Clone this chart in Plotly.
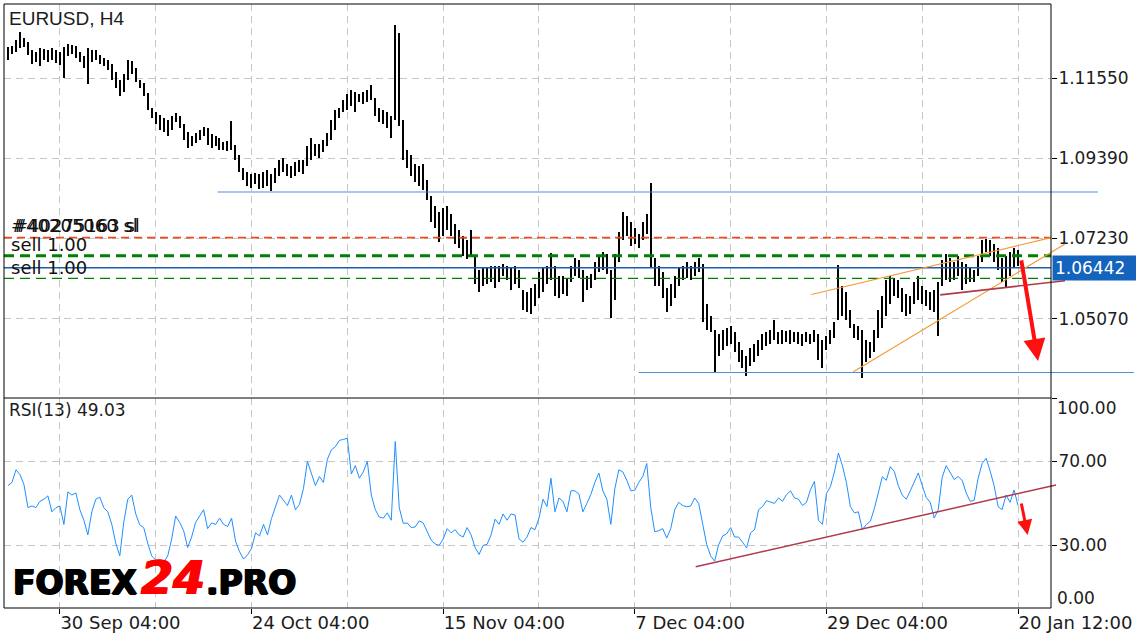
import plotly.graph_objects as go

# ---------------- data (one entry per drawn bar column) ----------------
time_ticks = [13, 61, 109, 157, 205, 253]
time_labels = ["30 Sep 04:00", "24 Oct 04:00", "15 Nov 04:00",
               "7 Dec 04:00", "29 Dec 04:00", "20 Jan 12:00"]

high = [
    1.1239, 1.1241, 1.1257, 1.1279, 1.1263, 1.1252, 1.1231, 1.1225, 1.1236, 1.1233,
    1.1231, 1.1236, 1.1231, 1.1225, 1.1239, 1.1247, 1.1244, 1.1241, 1.1225, 1.1214,
    1.1236, 1.1231, 1.1231, 1.1217, 1.1209, 1.1204, 1.1193, 1.1171, 1.1150, 1.1166,
    1.1204, 1.1201, 1.1182, 1.1150, 1.1142, 1.1115, 1.1074, 1.1064, 1.1055, 1.1047,
    1.1042, 1.1053, 1.1061, 1.1053, 1.1031, 1.1010, 1.0999, 1.1007, 1.1015, 1.1023,
    1.1020, 1.1004, 1.0999, 1.0994, 1.0983, 1.0985, 1.1039, 1.0975, 1.0948, 1.0913,
    1.0902, 1.0897, 1.0899, 1.0897, 1.0902, 1.0907, 1.0897, 1.0913, 1.0934, 1.0940,
    1.0923, 1.0918, 1.0929, 1.0934, 1.0934, 1.0972, 1.0994, 1.0977, 1.0977, 1.0988,
    1.1007, 1.1042, 1.1069, 1.1074, 1.1096, 1.1112, 1.1123, 1.1117, 1.1112, 1.1117,
    1.1123, 1.1136, 1.1101, 1.1074, 1.1069, 1.1064, 1.1053, 1.1298, 1.1276, 1.1042,
    1.0961, 1.0948, 1.0923, 1.0918, 1.0923, 1.0880, 1.0837, 1.0810, 1.0794, 1.0805,
    1.0810, 1.0789, 1.0762, 1.0746, 1.0730, 1.0719, 1.0746, 1.0676, 1.0638, 1.0643,
    1.0643, 1.0649, 1.0649, 1.0649, 1.0654, 1.0649, 1.0643, 1.0649, 1.0638, 1.0584,
    1.0579, 1.0590, 1.0600, 1.0633, 1.0643, 1.0649, 1.0684, 1.0649, 1.0622, 1.0622,
    1.0617, 1.0649, 1.0670, 1.0665, 1.0638, 1.0622, 1.0627, 1.0660, 1.0676, 1.0686,
    1.0681, 1.0638, 1.0681, 1.0740, 1.0794, 1.0783, 1.0767, 1.0751, 1.0735, 1.0767,
    1.0789, 1.0872, 1.0670, 1.0649, 1.0633, 1.0590, 1.0600, 1.0622, 1.0643, 1.0649,
    1.0660, 1.0649, 1.0660, 1.0670, 1.0654, 1.0546, 1.0514, 1.0476, 1.0466, 1.0476,
    1.0482, 1.0487, 1.0471, 1.0444, 1.0423, 1.0406, 1.0428, 1.0439, 1.0450, 1.0466,
    1.0471, 1.0476, 1.0503, 1.0471, 1.0476, 1.0474, 1.0476, 1.0471, 1.0471, 1.0466,
    1.0471, 1.0466, 1.0476, 1.0466, 1.0450, 1.0460, 1.0476, 1.0498, 1.0651, 1.0595,
    1.0579, 1.0530, 1.0493, 1.0487, 1.0476, 1.0450, 1.0444, 1.0476, 1.0530, 1.0568,
    1.0611, 1.0622, 1.0617, 1.0611, 1.0590, 1.0573, 1.0568, 1.0606, 1.0622, 1.0595,
    1.0584, 1.0579, 1.0584, 1.0606, 1.0665, 1.0681, 1.0670, 1.0660, 1.0676, 1.0660,
    1.0654, 1.0643, 1.0638, 1.0676, 1.0719, 1.0722, 1.0719, 1.0708, 1.0697, 1.0670,
    1.0676, 1.0686, 1.0697, 1.0692,
]

low = [
    1.1204, 1.1220, 1.1225, 1.1236, 1.1239, 1.1217, 1.1193, 1.1198, 1.1187, 1.1204,
    1.1198, 1.1204, 1.1195, 1.1190, 1.1155, 1.1214, 1.1220, 1.1209, 1.1198, 1.1182,
    1.1139, 1.1198, 1.1204, 1.1193, 1.1187, 1.1177, 1.1150, 1.1128, 1.1107, 1.1117,
    1.1150, 1.1166, 1.1144, 1.1128, 1.1107, 1.1069, 1.1047, 1.1031, 1.1015, 1.1010,
    1.0999, 1.1015, 1.1037, 1.1020, 1.0988, 1.0967, 1.0972, 1.0980, 1.0988, 1.0999,
    1.0975, 1.0967, 1.0972, 1.0961, 1.0961, 1.0959, 1.0961, 1.0934, 1.0902, 1.0880,
    1.0864, 1.0859, 1.0870, 1.0856, 1.0859, 1.0864, 1.0851, 1.0872, 1.0891, 1.0902,
    1.0891, 1.0886, 1.0891, 1.0902, 1.0897, 1.0918, 1.0934, 1.0945, 1.0940, 1.0956,
    1.0972, 1.0988, 1.1015, 1.1047, 1.1064, 1.1069, 1.1080, 1.1064, 1.1090, 1.1085,
    1.1090, 1.1096, 1.1053, 1.1037, 1.1031, 1.1020, 1.0994, 1.1042, 1.1026, 1.0934,
    1.0913, 1.0891, 1.0875, 1.0864, 1.0853, 1.0827, 1.0767, 1.0751, 1.0713, 1.0730,
    1.0746, 1.0730, 1.0708, 1.0697, 1.0676, 1.0668, 1.0676, 1.0600, 1.0579, 1.0595,
    1.0600, 1.0606, 1.0590, 1.0606, 1.0622, 1.0611, 1.0584, 1.0600, 1.0590, 1.0530,
    1.0525, 1.0520, 1.0541, 1.0563, 1.0579, 1.0600, 1.0611, 1.0568, 1.0563, 1.0573,
    1.0568, 1.0606, 1.0622, 1.0617, 1.0552, 1.0584, 1.0590, 1.0611, 1.0633, 1.0638,
    1.0627, 1.0509, 1.0557, 1.0660, 1.0719, 1.0730, 1.0703, 1.0708, 1.0697, 1.0719,
    1.0735, 1.0643, 1.0595, 1.0595, 1.0563, 1.0525, 1.0541, 1.0563, 1.0595, 1.0611,
    1.0617, 1.0611, 1.0622, 1.0633, 1.0498, 1.0476, 1.0471, 1.0363, 1.0406, 1.0423,
    1.0433, 1.0439, 1.0417, 1.0390, 1.0374, 1.0353, 1.0380, 1.0390, 1.0406, 1.0423,
    1.0433, 1.0439, 1.0450, 1.0439, 1.0439, 1.0444, 1.0439, 1.0444, 1.0439, 1.0433,
    1.0444, 1.0439, 1.0444, 1.0396, 1.0374, 1.0423, 1.0439, 1.0455, 1.0503, 1.0514,
    1.0503, 1.0482, 1.0455, 1.0450, 1.0347, 1.0390, 1.0401, 1.0417, 1.0455, 1.0482,
    1.0514, 1.0546, 1.0568, 1.0563, 1.0525, 1.0514, 1.0520, 1.0546, 1.0557, 1.0546,
    1.0541, 1.0530, 1.0525, 1.0460, 1.0595, 1.0611, 1.0606, 1.0611, 1.0622, 1.0584,
    1.0600, 1.0606, 1.0606, 1.0622, 1.0660, 1.0686, 1.0676, 1.0660, 1.0638, 1.0606,
    1.0592, 1.0622, 1.0643, 1.0649,
]

rsi = [
    58.5, 60, 66, 63.7, 59, 48, 48.8, 48, 51, 52,
    53.6, 46, 48, 48.8, 40, 55.5, 54, 55, 47, 42,
    35, 46, 52, 53, 48, 46, 40, 31, 25, 41,
    52, 54, 45, 39.8, 38.5, 31, 25, 23, 22.5, 22,
    25, 33, 44, 41, 37, 29, 34, 41, 44, 47,
    38, 40.7, 40, 43, 40, 39, 43, 32, 27, 23.5,
    25.5, 28.5, 36, 34.5, 40, 35, 42.8, 48, 54, 51.5,
    49, 54, 47, 49.5, 57, 70, 64, 58.5, 62.8, 60,
    71, 75.5, 77, 80, 80.5, 81, 64, 68, 62, 65,
    70, 54, 47, 43.5, 43, 45.5, 42, 79.5, 48, 40.5,
    40.7, 38.5, 38.8, 41.7, 40.7, 36.7, 32.5, 30.7, 30, 33,
    38, 36, 37.5, 35, 34, 38.5, 35, 29, 25.7, 30,
    30.5, 35, 42.5, 40, 45, 42, 45, 44.5, 33.1, 31.5,
    34, 38.5, 37.5, 43, 52, 48.5, 62, 46, 52.6, 51,
    46, 56, 56, 54.5, 46, 50, 54.3, 60, 64.5, 56,
    52, 40, 57, 66, 65, 61, 56, 56.3, 60, 62.8,
    69, 48, 36.5, 37, 38, 33.5, 38, 47, 50.5, 49,
    48.4, 48.8, 52.6, 50, 40, 30.5, 25, 22.5, 30.3, 34.5,
    35.5, 38.5, 34, 34, 31.5, 28.8, 36, 37.5, 47, 48.5,
    51.3, 50.7, 50, 52.6, 51, 54.2, 56, 52.6, 52, 49,
    50.5, 56.5, 60.5, 42, 40, 54.7, 58, 65, 74, 68,
    60, 48.5, 45.5, 46, 37.5, 40, 41.5, 47.5, 54.5, 62.7,
    61, 67.5, 65.2, 58.5, 54, 52, 56, 60.5, 64.5, 58.5,
    52.8, 50.5, 43, 47, 62.5, 68, 64.5, 61.4, 62.8, 61,
    55, 51, 51.5, 62, 69, 71.5, 65.5, 58.5, 48.5, 47,
    54, 50.5, 56.4, 49.03,
]

price_ticks = [1.05070, 1.07230, 1.09390, 1.11550]
rsi_ticks = [0, 30, 70, 100]

# order / level lines (prices)
sl_level = 1.07250
order_level_1 = 1.06765
order_level_2 = 1.06156
bid_price = 1.06442
level_high = 1.0848
level_low = 1.0362

# user-drawn trendlines: (bar index, value)
channel_upper = [(201.25, 1.0572), (261.25, 1.0725)]
channel_lower = [(211.75, 1.0364), (264.75, 1.0708)]
wedge_base = [(233.5, 1.0571), (264.75, 1.0609)]
level_high_span = [52.5, 273]
level_low_span = [158, 282]
rsi_trend = [(172.25, 19.8), (262.5, 58.8)]
price_arrow = [(253.75, 1.0668), (258.0, 1.0393)]
rsi_arrow = [(253.75, 50.7), (255.4, 35.0)]

# ---------------- layout constants ----------------
XR = [-1, 261.25]
YR_PRICE = [1.02933, 1.13543]
YR_RSI = [0.2, 100.2]
SPLIT = 210 / 604
GRID = "#c6c6c6"
DASH = "7px,5px"
FONT = "DejaVu Sans"


def xp(i):
    return (i - XR[0]) / (XR[1] - XR[0])


def px_x(px):
    return (px - 4) / 1049


def px_y(py):
    return (608 - py) / 604


idx = list(range(len(high)))
span = [h - l for h, l in zip(high, low)]

fig = go.Figure()
fig.add_trace(go.Bar(
    x=idx, y=span, base=low, width=0.3,
    marker=dict(color="#000000", line=dict(width=0)),
    xaxis="x", yaxis="y", hoverinfo="skip", showlegend=False))
fig.add_trace(go.Scatter(
    x=idx, y=rsi, mode="lines", line=dict(color="#1e90ff", width=1),
    xaxis="x", yaxis="y2", hoverinfo="skip", showlegend=False))

shapes = []


def hline(y, color, width, dash=None, yref="y"):
    d = dict(type="line", xref="paper", yref=yref, x0=0, x1=1, y0=y, y1=y,
             line=dict(color=color, width=width))
    if dash:
        d["line"]["dash"] = dash
    return d


def seg(p0, p1, color, width, yref="y"):
    return dict(type="line", xref="paper", yref=yref,
                x0=xp(p0[0]), y0=p0[1], x1=xp(p1[0]), y1=p1[1],
                line=dict(color=color, width=width))


shapes.append(hline(sl_level, "#f0481a", 1.8, "8px,5px"))
shapes.append(hline(order_level_1, "#008000", 3, "10px,6px"))
shapes.append(hline(order_level_2, "#008000", 1.3, "10px,6px"))
shapes.append(hline(bid_price, "#1a5fa8", 1.5))
shapes.append(seg((level_high_span[0], level_high), (level_high_span[1], level_high), "#4a8fd8", 1))
shapes.append(seg((level_low_span[0], level_low), (level_low_span[1], level_low), "#4a8fd8", 1))
shapes.append(seg(*channel_upper, "#f39a3a", 1.2))
shapes.append(seg(*channel_lower, "#f39a3a", 1.2))
shapes.append(seg(*wedge_base, "#b03a4c", 1.6))
shapes.append(seg(*rsi_trend, "#b03a4c", 1.5, yref="y2"))
# frame and panel separator
shapes.append(dict(type="rect", xref="paper", yref="paper", x0=0, x1=1, y0=0, y1=1,
                   line=dict(color="black", width=1)))
shapes.append(dict(type="line", xref="paper", yref="paper", x0=0, x1=1, y0=SPLIT, y1=SPLIT,
                   line=dict(color="black", width=1)))

annotations = []
TXT = "#1c1c1c"
annotations.append(dict(text="EURUSD, H4", xref="paper", yref="paper", x=px_x(7), y=px_y(18),
                        xanchor="left", yanchor="middle", showarrow=False,
                        font=dict(family="Liberation Sans", size=19, color=TXT)))
annotations.append(dict(text="RSI(13) 49.03", xref="paper", yref="paper", x=px_x(7), y=px_y(410),
                        xanchor="left", yanchor="middle", showarrow=False,
                        font=dict(family=FONT, size=17, color=TXT)))
for t, dx in (("#40205060 sl", 0), ("#40275163 sl", 2)):
    annotations.append(dict(text=t, xref="paper", yref="y", x=px_x(9 + dx), y=sl_level,
                            yshift=12, xanchor="left", yanchor="middle", showarrow=False,
                            font=dict(family=FONT, size=18, color="#111111")))
for lvl in (order_level_1, order_level_2):
    annotations.append(dict(text="sell 1.00", xref="paper", yref="y", x=px_x(9), y=lvl,
                            yshift=11, xanchor="left", yanchor="middle", showarrow=False,
                            font=dict(family=FONT, size=18, color="#111111")))
annotations.append(dict(text="1.06442", xref="paper", yref="y", x=px_x(1054), y=bid_price,
                        xanchor="left", yanchor="middle", showarrow=False, align="left",
                        width=84, height=20, bgcolor="#1463bd", borderpad=2,
                        font=dict(family=FONT, size=17, color="white")))
annotations.append(dict(text="100.00", xref="paper", yref="paper", x=px_x(1057), y=px_y(408),
                        xanchor="left", yanchor="middle", showarrow=False,
                        font=dict(family=FONT, size=17, color=TXT)))
annotations.append(dict(text="0.00", xref="paper", yref="paper", x=px_x(1057), y=px_y(598),
                        xanchor="left", yanchor="middle", showarrow=False,
                        font=dict(family=FONT, size=17, color=TXT)))
# arrows
annotations.append(dict(x=price_arrow[1][0], y=price_arrow[1][1], ax=price_arrow[0][0], ay=price_arrow[0][1],
                        xref="x", yref="y", axref="x", ayref="y", text="", showarrow=True,
                        arrowhead=2, arrowsize=1.1, arrowwidth=4, arrowcolor="#ff1010", standoff=0))
annotations.append(dict(x=rsi_arrow[1][0], y=rsi_arrow[1][1], ax=rsi_arrow[0][0], ay=rsi_arrow[0][1],
                        xref="x", yref="y2", axref="x", ayref="y2", text="", showarrow=True,
                        arrowhead=2, arrowsize=1, arrowwidth=3, arrowcolor="#ff1010", standoff=0))
# logo (three parts for colour / weight)
logo_font = dict(family="DejaVu Sans", size=33, color="#000000", weight="bold",
                 shadow="1px 0px 0px #000000, -1px 0px 0px #000000, 0px 1px 0px #000000")
annotations.append(dict(text="FOREX", xref="paper", yref="paper", x=px_x(11), y=px_y(597),
                        xanchor="left", yanchor="bottom", yshift=-7, showarrow=False, font=logo_font))
annotations.append(dict(text="<i>24</i>", xref="paper", yref="paper", x=px_x(139), y=px_y(597),
                        xanchor="left", yanchor="bottom", yshift=-10, showarrow=False,
                        font=dict(family="DejaVu Sans", size=46, color="#ff0000", weight="bold",
                                  shadow="1px 0px 0px #ff0000, -1px 0px 0px #ff0000")))
annotations.append(dict(text=".PRO", xref="paper", yref="paper", x=px_x(204), y=px_y(597),
                        xanchor="left", yanchor="bottom", yshift=-7, showarrow=False, font=logo_font))

axis_font = dict(family=FONT, size=17, color=TXT)
fig.update_layout(
    width=1136, height=640, autosize=False,
    margin=dict(l=4, r=83, t=4, b=32, pad=0),
    paper_bgcolor="white", plot_bgcolor="white",
    font=dict(family=FONT, size=17, color=TXT),
    showlegend=False, hovermode=False, bargap=0,
    xaxis=dict(domain=[0, 1], anchor="y2", range=XR, tickmode="array",
               tickvals=time_ticks, ticktext=time_labels, ticks="outside", ticklen=5,
               tickcolor="black", tickwidth=1, ticklabelposition="outside right",
               ticklabelstandoff=-2,
               showgrid=True, gridcolor=GRID, griddash=DASH, gridwidth=1,
               minor=dict(tickmode="linear", tick0=13, dtick=24, showgrid=True,
                          gridcolor=GRID, griddash=DASH, gridwidth=1, ticks=""),
               zeroline=False, showline=False,
               tickfont=dict(family=FONT, size=18, color=TXT)),
    yaxis=dict(domain=[SPLIT, 1], anchor="x", side="right", range=YR_PRICE,
               tickmode="array", tickvals=price_ticks,
               ticktext=[f"{v:.5f}" for v in price_ticks],
               ticks="outside", ticklen=5, tickcolor="black", tickwidth=1,
               ticklabelstandoff=-2,
               showgrid=True, gridcolor=GRID, griddash=DASH, gridwidth=1,
               zeroline=False, showline=False, tickfont=axis_font),
    yaxis2=dict(domain=[0, SPLIT], anchor="x", side="right", range=YR_RSI,
                tickmode="array", tickvals=rsi_ticks, ticktext=["", "30.00", "70.00", ""],
                ticks="outside", ticklen=5, tickcolor="black", tickwidth=1,
                ticklabelstandoff=-2,
                showgrid=True, gridcolor=GRID, griddash=DASH, gridwidth=1,
                zeroline=False, showline=False, tickfont=axis_font),
    shapes=shapes,
    annotations=annotations,
)

fig.write_html("out.html", config={"displayModeBar": False},
               post_script="document.body.style.margin='0px';document.body.style.overflow='hidden';")
